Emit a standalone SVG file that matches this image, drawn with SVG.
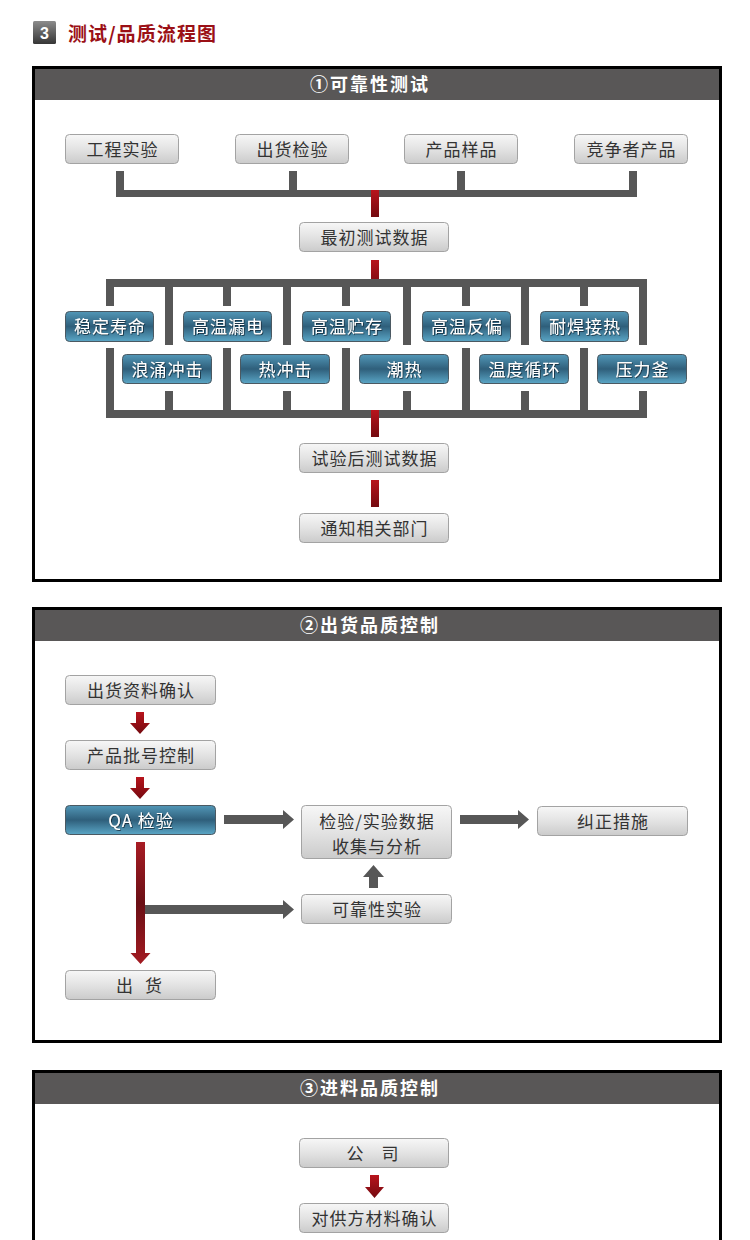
<svg xmlns="http://www.w3.org/2000/svg" width="750" height="1240" viewBox="0 0 750 1240">
<defs>
<linearGradient id="gGray" x1="0" y1="0" x2="0" y2="1">
<stop offset="0" stop-color="#f7f7f7"/><stop offset="0.5" stop-color="#e3e3e3"/><stop offset="1" stop-color="#cbcbcb"/>
</linearGradient>
<linearGradient id="gBlue" x1="0" y1="0" x2="0" y2="1">
<stop offset="0" stop-color="#5297b7"/><stop offset="0.5" stop-color="#2f5f7b"/><stop offset="1" stop-color="#5aa6c6"/>
</linearGradient>
<linearGradient id="gRed" x1="0" y1="0" x2="0" y2="1">
<stop offset="0" stop-color="#b8141c"/><stop offset="1" stop-color="#740a10"/>
</linearGradient>
<linearGradient id="gRedLong" x1="0" y1="0" x2="0" y2="1">
<stop offset="0" stop-color="#a81c24"/><stop offset="0.5" stop-color="#6a0f15"/><stop offset="1" stop-color="#a31b22"/>
</linearGradient>
<linearGradient id="gIcon" x1="0" y1="0" x2="0" y2="1">
<stop offset="0" stop-color="#8c8c8c"/><stop offset="1" stop-color="#363636"/>
</linearGradient>
<filter id="ts" x="-10%" y="-20%" width="120%" height="140%">
<feDropShadow dx="0.8" dy="0.8" stdDeviation="0.4" flood-color="#0b2433" flood-opacity="0.9"/>
</filter>
</defs>
<style>
.box{fill:url(#gGray);stroke:#a3a3a3;stroke-width:1}
.blue{fill:url(#gBlue);stroke:#4b5962;stroke-width:1}
.t{font-family:"Noto Sans CJK SC","Noto Sans",sans-serif;font-size:17px;fill:#333;text-anchor:middle;letter-spacing:1px}
.tw{font-family:"Noto Sans CJK SC","Noto Sans",sans-serif;font-size:17px;fill:#fff;text-anchor:middle;letter-spacing:1px;filter:url(#ts)}
.hd{fill:#595757}
.frame{fill:none;stroke:#000;stroke-width:3}
.ht{font-family:"Noto Sans CJK SC","Noto Sans",sans-serif;font-size:18px;font-weight:bold;fill:#fff;text-anchor:middle;letter-spacing:2px}
.bar{fill:#575757}
.red{fill:url(#gRed)}
</style>
<rect x="0" y="0" width="750" height="1240" fill="#fff"/>

<g id="title">
<rect x="33" y="21" width="23" height="23" rx="1.5" fill="url(#gIcon)"/>
<text x="44.5" y="38.5" font-family="Liberation Sans, Arial, sans-serif" font-size="16" font-weight="bold" fill="#fff" text-anchor="middle">3</text>
<text x="68" y="41" font-family="'Noto Sans CJK SC', sans-serif" font-size="19" font-weight="bold" fill="#9b1016" textLength="148" lengthAdjust="spacing">测试/品质流程图</text>
</g>

<!-- Section frames -->
<g id="section1">
<rect class="hd" x="35" y="69" width="684" height="31"/>
<rect class="frame" x="33.5" y="67.5" width="687" height="513"/>
<text class="ht" x="370" y="91">①可靠性测试</text>
</g>
<g id="section2">
<rect class="hd" x="35" y="610" width="684" height="31"/>
<rect class="frame" x="33.5" y="608.5" width="687" height="433"/>
<text class="ht" x="370" y="632">②出货品质控制</text>
</g>
<g id="section3">
<rect class="hd" x="35" y="1073" width="684" height="31"/>
<rect class="frame" x="33.5" y="1071.5" width="687" height="200"/>
<text class="ht" x="370" y="1095">③进料品质控制</text>
</g>

<g id="connectors">
<!-- section 1 top merge -->
<rect class="bar" x="116" y="171" width="8" height="20"/>
<rect class="bar" x="289" y="171" width="8" height="20"/>
<rect class="bar" x="457" y="171" width="8" height="20"/>
<rect class="bar" x="629" y="171" width="8" height="20"/>
<rect class="bar" x="116" y="190" width="521" height="7"/>
<rect class="red" x="371" y="190" width="8" height="27"/>
<rect class="red" x="371" y="260" width="8" height="27"/>
<!-- test matrix -->
<rect class="bar" x="106" y="279" width="541" height="8"/>
<rect class="bar" x="106" y="410" width="541" height="8"/>
<rect class="bar" x="106" y="279" width="8" height="27"/><rect class="bar" x="106" y="348" width="8" height="70"/>
<rect class="bar" x="223" y="279" width="8" height="27"/><rect class="bar" x="223" y="348" width="8" height="70"/>
<rect class="bar" x="342" y="279" width="8" height="27"/><rect class="bar" x="342" y="348" width="8" height="70"/>
<rect class="bar" x="462" y="279" width="8" height="27"/><rect class="bar" x="462" y="348" width="8" height="70"/>
<rect class="bar" x="580" y="279" width="8" height="27"/><rect class="bar" x="580" y="348" width="8" height="70"/>
<rect class="bar" x="165" y="279" width="8" height="66"/><rect class="bar" x="165" y="391" width="8" height="27"/>
<rect class="bar" x="283" y="279" width="8" height="66"/><rect class="bar" x="283" y="391" width="8" height="27"/>
<rect class="bar" x="403" y="279" width="8" height="66"/><rect class="bar" x="403" y="391" width="8" height="27"/>
<rect class="bar" x="521" y="279" width="8" height="66"/><rect class="bar" x="521" y="391" width="8" height="27"/>
<rect class="bar" x="639" y="279" width="8" height="66"/><rect class="bar" x="639" y="391" width="8" height="27"/>
<rect class="red" x="371" y="410" width="8" height="27"/>
<rect class="red" x="371" y="480" width="8" height="27"/>

<!-- section 2 -->
<path class="red" d="M136,712 H144 V723 H150 L140,734 L130,723 H136 Z"/>
<path class="red" d="M136,777 H144 V788 H150 L140,799 L130,788 H136 Z"/>
<path class="bar" d="M224,815 H283 V810 L294,819.5 L283,829 V824 H224 Z"/>
<path class="bar" d="M460,815 H518 V810 L529,819.5 L518,829 V824 H460 Z"/>
<path class="bar" d="M369,888 V877 H363 L373.5,865 L384,877 H378 V888 Z"/>
<path class="bar" d="M140,905 H283 V900 L294,909.5 L283,919 V914 H140 Z"/>
<path fill="url(#gRedLong)" d="M136,842 H145 V953 H150.5 L140.5,964 L130.5,953 H136 Z"/>

<!-- section 3 -->
<path class="red" d="M370,1175 H379 V1187 H384 L374.5,1198 L365,1187 H370 Z"/>
</g>

<g id="n-gongcheng"><rect class="box" x="65.5" y="134.5" width="113" height="29" rx="4"/><text class="t" x="122.5" y="156">工程实验</text></g>
<g id="n-chuhuojianyan"><rect class="box" x="235.5" y="134.5" width="113" height="29" rx="4"/><text class="t" x="292.5" y="156">出货检验</text></g>
<g id="n-chanpinyangpin"><rect class="box" x="404.5" y="134.5" width="113" height="29" rx="4"/><text class="t" x="461.5" y="156">产品样品</text></g>
<g id="n-jingzheng"><rect class="box" x="574.5" y="134.5" width="113" height="29" rx="4"/><text class="t" x="631.5" y="156">竞争者产品</text></g>
<g id="n-zuichu"><rect class="box" x="299.5" y="222.5" width="149" height="29" rx="4"/><text class="t" x="374.5" y="244">最初测试数据</text></g>

<g id="n-wending"><rect class="blue" x="65.5" y="311.5" width="88" height="30" rx="4"/><text class="tw" x="110" y="333">稳定寿命</text></g>
<g id="n-gaowenloudian"><rect class="blue" x="183.5" y="311.5" width="88" height="30" rx="4"/><text class="tw" x="228" y="333">高温漏电</text></g>
<g id="n-gaowenzhucun"><rect class="blue" x="302.5" y="311.5" width="88" height="30" rx="4"/><text class="tw" x="347" y="333">高温贮存</text></g>
<g id="n-gaowenfanpian"><rect class="blue" x="422.5" y="311.5" width="88" height="30" rx="4"/><text class="tw" x="467" y="333">高温反偏</text></g>
<g id="n-naihan"><rect class="blue" x="540.5" y="311.5" width="88" height="30" rx="4"/><text class="tw" x="585" y="333">耐焊接热</text></g>
<g id="n-langyong"><rect class="blue" x="122.5" y="354.5" width="89" height="29" rx="4"/><text class="tw" x="167.5" y="376">浪涌冲击</text></g>
<g id="n-rechongji"><rect class="blue" x="240.5" y="354.5" width="89" height="29" rx="4"/><text class="tw" x="285.5" y="376">热冲击</text></g>
<g id="n-chaore"><rect class="blue" x="359.5" y="354.5" width="89" height="29" rx="4"/><text class="tw" x="404.5" y="376">潮热</text></g>
<g id="n-wendu"><rect class="blue" x="479.5" y="354.5" width="89" height="29" rx="4"/><text class="tw" x="524.5" y="376">温度循环</text></g>
<g id="n-yalifu"><rect class="blue" x="597.5" y="354.5" width="89" height="29" rx="4"/><text class="tw" x="642.5" y="376">压力釜</text></g>

<g id="n-shiyanhou"><rect class="box" x="299.5" y="443.5" width="149" height="29" rx="4"/><text class="t" x="374.5" y="465">试验后测试数据</text></g>
<g id="n-tongzhi"><rect class="box" x="299.5" y="513.5" width="149" height="29" rx="4"/><text class="t" x="374.5" y="535">通知相关部门</text></g>

<g id="n-chuhuoziliao"><rect class="box" x="65.5" y="675.5" width="150" height="29" rx="4"/><text class="t" x="141" y="697">出货资料确认</text></g>
<g id="n-pihao"><rect class="box" x="65.5" y="740.5" width="150" height="29" rx="4"/><text class="t" x="141" y="762">产品批号控制</text></g>
<g id="n-qa"><rect class="blue" x="65.5" y="805.5" width="150" height="29" rx="4"/><text class="tw" x="141" y="827">QA 检验</text></g>
<g id="n-chuhuo"><rect class="box" x="65.5" y="970.5" width="150" height="29" rx="4"/><text class="t" x="141" y="992" style="letter-spacing:4px">出 货</text></g>
<g id="n-shuju"><rect class="box" x="301.5" y="805.5" width="150" height="53" rx="4"/><text class="t" x="377" y="828">检验/实验数据</text><text class="t" x="377" y="852.5">收集与分析</text></g>
<g id="n-kekaoxing"><rect class="box" x="301.5" y="894.5" width="150" height="29" rx="4"/><text class="t" x="377" y="916">可靠性实验</text></g>
<g id="n-jiuzheng"><rect class="box" x="537.5" y="806.5" width="150" height="29" rx="4"/><text class="t" x="613" y="828">纠正措施</text></g>

<g id="n-gongsi"><rect class="box" x="299.5" y="1138.5" width="149" height="29" rx="4"/><text class="t" x="376" y="1160" style="letter-spacing:7px">公 司</text></g>
<g id="n-gongfang"><rect class="box" x="299.5" y="1203.5" width="149" height="29" rx="4"/><text class="t" x="374.5" y="1225">对供方材料确认</text></g>
</svg>
